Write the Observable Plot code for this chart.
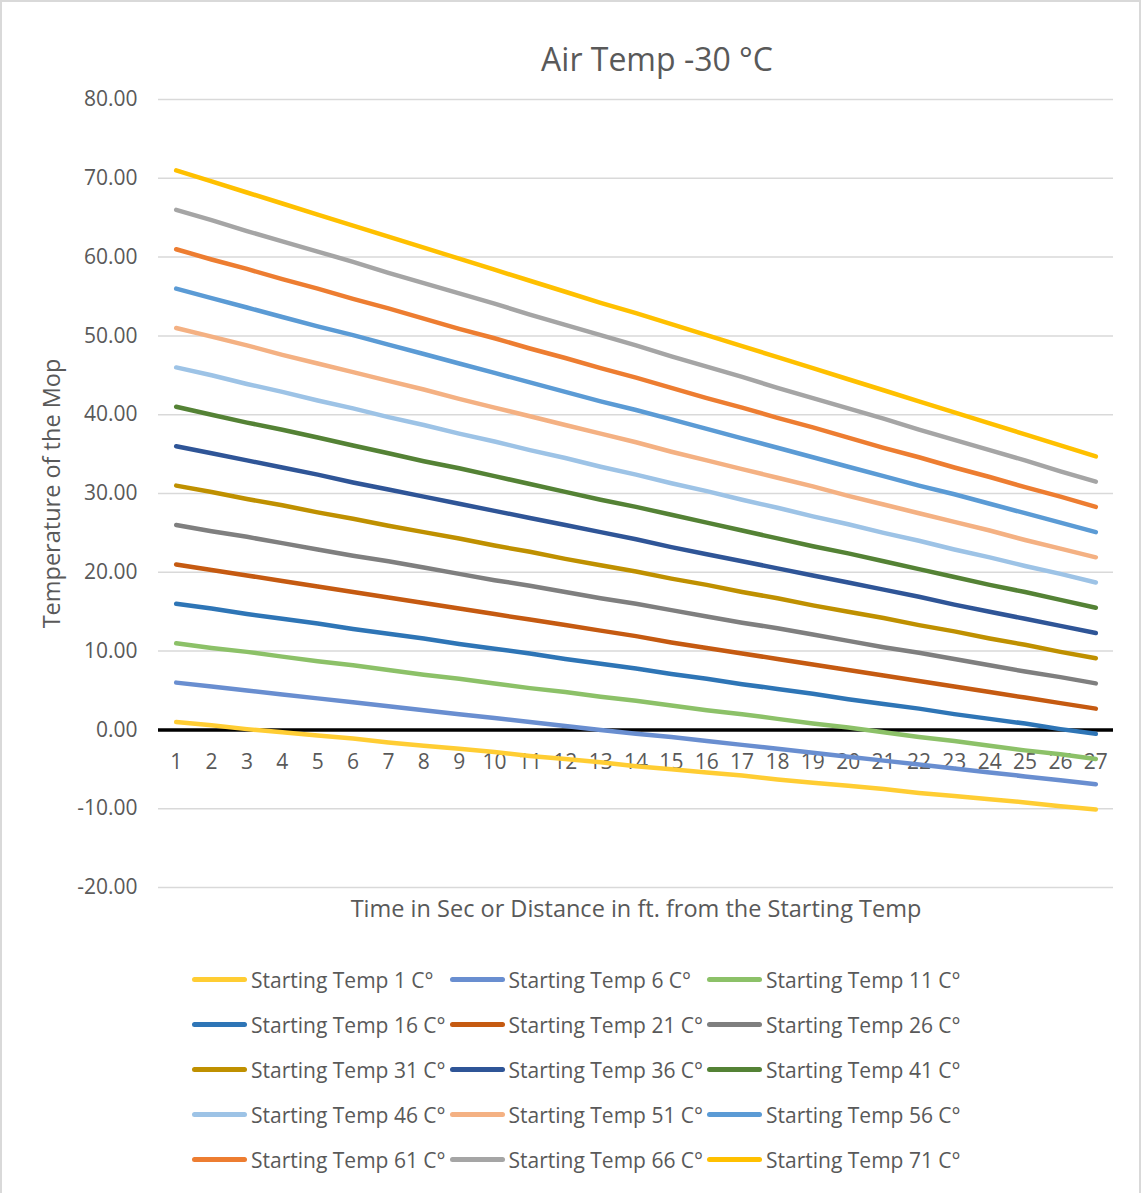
<!DOCTYPE html>
<html>
<head>
<meta charset="utf-8">
<script src="https://cdn.jsdelivr.net/npm/d3@7"></script>
<script src="https://cdn.jsdelivr.net/npm/@observablehq/plot@0.6"></script>
<style>
  html, body { margin: 0; padding: 0; background: #fff; }
  #wrap { position: relative; width: 1141px; height: 1193px; border-left: 2px solid #d9d9d9; border-top: 2px solid #d9d9d9; border-right: 2px solid #d9d9d9; box-sizing: border-box; font-family: "Open Sans", sans-serif; color: #595959; overflow: hidden; }
  #chart { position: absolute; left: -2px; top: -2px; width: 1144px; }
  #chart svg { max-width: none !important; }
  #title { position: absolute; left: 0; width: 1310px; top: 35px; text-align: center; font-size: 32px; line-height: 44px; color: #595959; }
  #legend { position: absolute; left: 190px; top: 955px; display: grid; grid-template-columns: 257.5px 257.5px 257.5px; grid-auto-rows: 45px; }
  .item { display: flex; align-items: center; height: 45px; white-space: nowrap; font-size: 21px; color: #595959; }
  .sw { width: 55px; height: 5px; border-radius: 3px; margin-right: 4px; flex: none; }
</style>
</head>
<body>
<div id="wrap">
  <div id="chart"></div>
  <div id="title">Air Temp -30 °C</div>
  <div id="legend"></div>
</div>
<script>
const titleText = "Air Temp -30 °C";
const yLabel = "Temperature of the Mop";
const xLabel = "Time in Sec or Distance in ft. from the Starting Temp";

const steps = [1,2,3,4,5,6,7,8,9,10,11,12,13,14,15,16,17,18,19,20,21,22,23,24,25,26,27];
const yTicks = [-20,-10,0,10,20,30,40,50,60,70,80];

const seriesNames = [
  "Starting Temp 1 C°","Starting Temp 6 C°","Starting Temp 11 C°",
  "Starting Temp 16 C°","Starting Temp 21 C°","Starting Temp 26 C°",
  "Starting Temp 31 C°","Starting Temp 36 C°","Starting Temp 41 C°",
  "Starting Temp 46 C°","Starting Temp 51 C°","Starting Temp 56 C°",
  "Starting Temp 61 C°","Starting Temp 66 C°","Starting Temp 71 C°"
];
const seriesColors = [
  "#FFCD33","#698ED0","#8CC168",
  "#2E75B6","#C55A11","#7F7F7F",
  "#BF9000","#2F5597","#548235",
  "#9DC3E6","#F4B183","#5B9BD5",
  "#ED7D31","#A5A5A5","#FFC000"
];

const temp1  = [1.0,0.6,0.1,-0.3,-0.7,-1.1,-1.6,-2.0,-2.4,-2.8,-3.3,-3.7,-4.1,-4.6,-5.0,-5.4,-5.8,-6.3,-6.7,-7.1,-7.5,-8.0,-8.4,-8.8,-9.2,-9.7,-10.1];
const temp6  = [6.0,5.5,5.0,4.5,4.0,3.5,3.0,2.5,2.0,1.5,1.0,0.5,0.0,-0.5,-0.9,-1.4,-1.9,-2.4,-2.9,-3.4,-3.9,-4.4,-4.9,-5.4,-5.9,-6.4,-6.9];
const temp11 = [11.0,10.4,9.9,9.3,8.7,8.2,7.6,7.0,6.5,5.9,5.3,4.8,4.2,3.7,3.1,2.5,2.0,1.4,0.8,0.3,-0.3,-0.9,-1.4,-2.0,-2.6,-3.1,-3.7];
const temp16 = [16.0,15.4,14.7,14.1,13.5,12.8,12.2,11.6,10.9,10.3,9.7,9.0,8.4,7.8,7.1,6.5,5.8,5.2,4.6,3.9,3.3,2.7,2.0,1.4,0.8,0.1,-0.5];
const temp21 = [21.0,20.3,19.6,18.9,18.2,17.5,16.8,16.1,15.4,14.7,14.0,13.3,12.6,11.9,11.1,10.4,9.7,9.0,8.3,7.6,6.9,6.2,5.5,4.8,4.1,3.4,2.7];
const temp26 = [26.0,25.2,24.5,23.7,22.9,22.1,21.4,20.6,19.8,19.0,18.3,17.5,16.7,16.0,15.2,14.4,13.6,12.9,12.1,11.3,10.5,9.8,9.0,8.2,7.4,6.7,5.9];
const temp31 = [31.0,30.2,29.3,28.5,27.6,26.8,25.9,25.1,24.3,23.4,22.6,21.7,20.9,20.1,19.2,18.4,17.5,16.7,15.8,15.0,14.2,13.3,12.5,11.6,10.8,9.9,9.1];
const temp36 = [36.0,35.1,34.2,33.3,32.4,31.4,30.5,29.6,28.7,27.8,26.9,26.0,25.1,24.2,23.2,22.3,21.4,20.5,19.6,18.7,17.8,16.9,15.9,15.0,14.1,13.2,12.3];
const temp41 = [41.0,40.0,39.0,38.1,37.1,36.1,35.1,34.1,33.2,32.2,31.2,30.2,29.2,28.3,27.3,26.3,25.3,24.3,23.3,22.4,21.4,20.4,19.4,18.4,17.5,16.5,15.5];
const temp46 = [46.0,45.0,43.9,42.9,41.8,40.8,39.7,38.7,37.6,36.6,35.5,34.5,33.4,32.4,31.3,30.3,29.2,28.2,27.1,26.1,25.0,24.0,22.9,21.9,20.8,19.8,18.7];
const temp51 = [51.0,49.9,48.8,47.6,46.5,45.4,44.3,43.2,42.0,40.9,39.8,38.7,37.6,36.5,35.3,34.2,33.1,32.0,30.9,29.7,28.6,27.5,26.4,25.3,24.1,23.0,21.9];
const temp56 = [56.0,54.8,53.6,52.4,51.2,50.1,48.9,47.7,46.5,45.3,44.1,42.9,41.7,40.6,39.4,38.2,37.0,35.8,34.6,33.4,32.2,31.0,29.9,28.7,27.5,26.3,25.1];
const temp61 = [61.0,59.7,58.5,57.2,56.0,54.7,53.5,52.2,50.9,49.7,48.4,47.2,45.9,44.7,43.4,42.1,40.9,39.6,38.4,37.1,35.8,34.6,33.3,32.1,30.8,29.6,28.3];
const temp66 = [66.0,64.7,63.3,62.0,60.7,59.4,58.0,56.7,55.4,54.1,52.7,51.4,50.1,48.8,47.4,46.1,44.8,43.4,42.1,40.8,39.5,38.1,36.8,35.5,34.2,32.8,31.5];
const temp71 = [71.0,69.6,68.2,66.8,65.4,64.0,62.6,61.2,59.8,58.4,57.0,55.6,54.2,52.9,51.5,50.1,48.7,47.3,45.9,44.5,43.1,41.7,40.3,38.9,37.5,36.1,34.7];

const seriesValues = [temp1,temp6,temp11,temp16,temp21,temp26,temp31,temp36,temp41,temp46,temp51,temp56,temp61,temp66,temp71];

const rows = [];
seriesValues.forEach((vals, i) => {
  vals.forEach((v, j) => rows.push({series: seriesNames[i], x: steps[j], y: v}));
});

const chart = Plot.plot({
  width: 1144,
  height: 940,
  marginTop: 99,
  marginBottom: 53,
  marginLeft: 158,
  marginRight: 31,
  style: {fontFamily: "'Open Sans', sans-serif", fontSize: "20px", color: "#595959", background: "transparent", overflow: "visible", maxWidth: "none"},
  x: {type: "linear", domain: [0.5, 27.5], axis: null},
  y: {domain: [-20, 80], axis: null},
  color: {domain: seriesNames, range: seriesColors},
  marks: [
    Plot.ruleY(yTicks.filter(d => d !== 0), {stroke: "#d9d9d9", strokeWidth: 1.5, strokeOpacity: 1}),
    Plot.axisY({ticks: yTicks, tickFormat: d => d.toFixed(2), tickSize: 0, tickPadding: 21, label: null, fill: "#595959", fontSize: 21}),
    Plot.ruleY([0], {stroke: "#000", strokeWidth: 3.5}),
    Plot.text(steps, {x: d => d, y: 0, dy: 32, text: d => String(d), fill: "#595959", fontSize: 21}),
    Plot.line(rows, {x: "x", y: "y", z: "series", stroke: "series", strokeWidth: 4.5, strokeLinecap: "round", strokeLinejoin: "round"}),
    Plot.text([yLabel], {frameAnchor: "left", textAnchor: "middle", lineAnchor: "middle", dx: -106, rotate: -90, fill: "#595959", fontSize: 23.5}),
    Plot.text([xLabel], {frameAnchor: "bottom", lineAnchor: "middle", dy: 22, fill: "#595959", fontSize: 23.5})
  ]
});
document.getElementById("chart").appendChild(chart);

const legend = document.getElementById("legend");
seriesNames.forEach((name, i) => {
  const item = document.createElement("div");
  item.className = "item";
  const sw = document.createElement("span");
  sw.className = "sw";
  sw.style.background = seriesColors[i];
  const t = document.createElement("span");
  t.textContent = name;
  item.appendChild(sw);
  item.appendChild(t);
  legend.appendChild(item);
});
</script>
</body>
</html>
